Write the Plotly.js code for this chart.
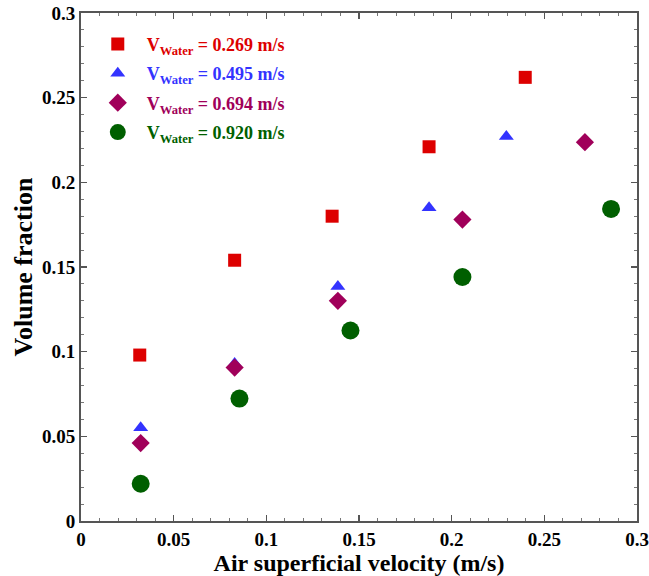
<!DOCTYPE html>
<html>
<head>
<meta charset="utf-8">
<script src="https://cdn.plot.ly/plotly-3.0.1.min.js"></script>
<style>html,body{margin:0;padding:0;background:#fff;}</style>
</head>
<body>
<div id="chart" style="width:649px;height:576px;"></div>
<script>
var seriesNames = ["0.269", "0.495", "0.694", "0.920"];
var x269 = [0.0317, 0.0829, 0.1355, 0.1878, 0.2397];
var y269 = [0.098, 0.154, 0.180, 0.221, 0.262];
var x495 = [0.0322, 0.0829, 0.1386, 0.1878, 0.2295];
var y495 = [0.055, 0.093, 0.1385, 0.185, 0.227];
var x694 = [0.0322, 0.0829, 0.1386, 0.2058, 0.2719];
var y694 = [0.046, 0.0906, 0.130, 0.178, 0.2237];
var x920 = [0.0322, 0.0855, 0.1454, 0.2058, 0.286];
var y920 = [0.022, 0.0723, 0.1125, 0.1441, 0.1843];

var colors = ["#dd0000", "#3333ff", "#a0005a", "#005f00"];
var symbols = ["square", "triangle-up", "diamond", "circle"];
var sizes = [13, 13, 14, 18];
var xs = [x269, x495, x694, x920];
var ys = [y269, y495, y694, y920];

var FONT = "Liberation Serif, Times New Roman, serif";
var traces = [];
for (var i = 0; i < 4; i++) {
  traces.push({
    x: xs[i], y: ys[i], type: "scatter", mode: "markers",
    legendgroup: "g" + i,
    name: '<span style="color:' + colors[i] + '">V<sub>Water</sub> = ' + seriesNames[i] + ' m/s</span>',
    marker: {symbol: symbols[i], size: sizes[i], color: colors[i], line: {width: 0}}
  });
}

var axisCommon = {
  range: [0, 0.3], dtick: 0.05, tick0: 0,
  showgrid: false, zeroline: false,
  showline: true, linecolor: "#555", linewidth: 2, mirror: "allticks",
  ticks: "inside", ticklen: 6, tickwidth: 1.5, tickcolor: "#555",
  minor: {dtick: 0.01, ticks: "inside", ticklen: 3, tickwidth: 1, tickcolor: "#777", showgrid: false},
  tickfont: {family: FONT, size: 19, color: "#000", weight: "bold"}
};

var layout = {
  width: 649, height: 576,
  margin: {l: 81, r: 12, t: 13, b: 55},
  paper_bgcolor: "#fff", plot_bgcolor: "#fff",
  showlegend: true,
  legend: {x: 0.014, y: 0.975, xanchor: "left", yanchor: "top", itemwidth: 48,
           tracegroupgap: 3,
           bgcolor: "rgba(0,0,0,0)", font: {family: FONT, size: 18, weight: "bold"}},
  xaxis: Object.assign({}, axisCommon, {
    title: {text: "Air superficial velocity (m/s)", standoff: 5,
            font: {family: FONT, size: 24, color: "#000", weight: "bold"}}
  }),
  yaxis: Object.assign({}, axisCommon, {
    title: {text: "Volume fraction", standoff: 2,
            font: {family: FONT, size: 26, color: "#000", weight: "bold"}}
  })
};

Plotly.newPlot("chart", traces, layout, {displayModeBar: false, staticPlot: true});
</script>
</body>
</html>
